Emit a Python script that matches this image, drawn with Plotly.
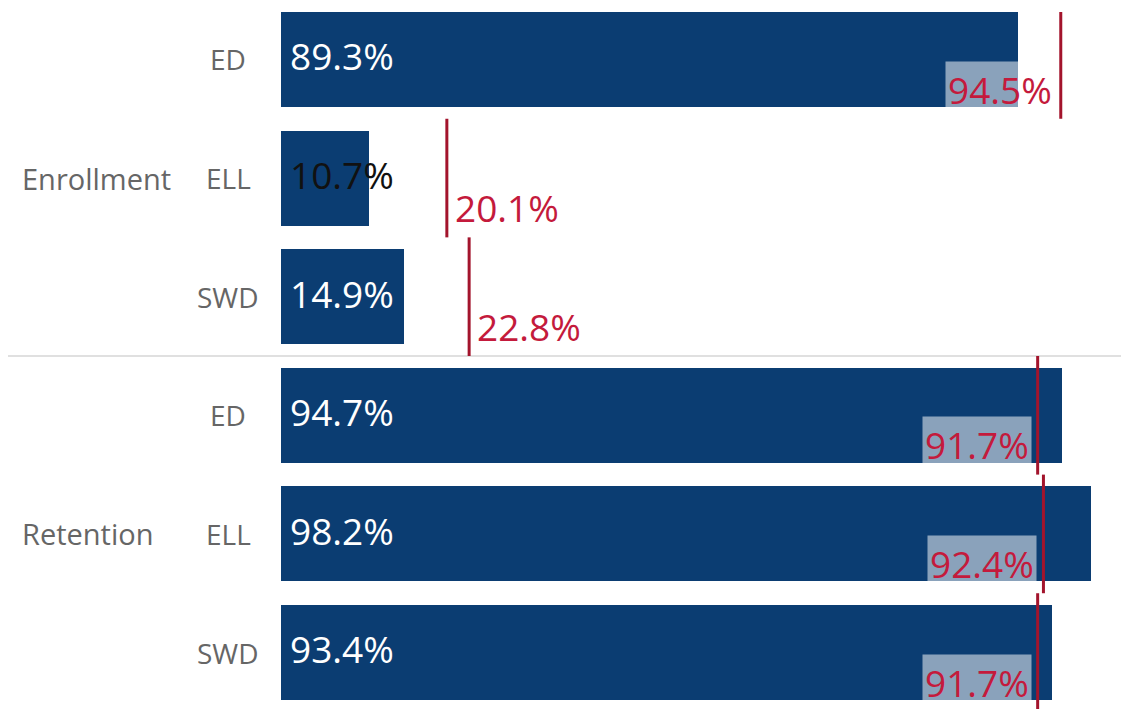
import plotly.graph_objects as go

# ---- data ----
groups = ["Enrollment", "Retention"]
subgroups = ["ED", "ELL", "SWD", "ED", "ELL", "SWD"]
values = [89.3, 10.7, 14.9, 94.7, 98.2, 93.4]
targets = [94.5, 20.1, 22.8, 91.7, 92.4, 91.7]

# ---- style ----
W, H = 1121, 709
NAVY = "#0b3d72"
RED_TXT = "#c41a3c"
RED_LINE = "#a3142c"
GRAY = "#666666"
FONT = "Open Sans"
ref_side = ["left", "right", "right", "left", "left", "left"]
value_color = ["white", "#111111", "white", "white", "white", "white"]

rows = list(range(len(values)))

fig = go.Figure()
fig.add_trace(go.Bar(
    x=values, y=rows, orientation="h", width=0.8,
    marker=dict(color=NAVY, line=dict(width=0)),
    hoverinfo="skip", showlegend=False,
))

shapes = []
annotations = []

# separator between groups
shapes.append(dict(type="line", xref="paper", yref="y",
                   x0=8 / W, x1=1, y0=2.5, y1=2.5,
                   line=dict(color="#d6d6d6", width=1.5), layer="below"))

for i in rows:
    # reference line
    shapes.append(dict(type="line", xref="x", yref="y",
                       x0=targets[i], x1=targets[i], y0=i - 0.5, y1=i + 0.5,
                       line=dict(color=RED_LINE, width=3)))
    # value label
    annotations.append(dict(x=0, y=i - 0.03, xref="x", yref="y",
                            text=f"{values[i]:.1f}%", showarrow=False,
                            xanchor="left", yanchor="middle", xshift=7,
                            font=dict(family=FONT, size=37, color=value_color[i])))
    # reference label
    side = ref_side[i]
    annotations.append(dict(x=targets[i], y=i + 0.25, xref="x", yref="y",
                            text=f"{targets[i]:.1f}%", showarrow=False,
                            xanchor="right" if side == "left" else "left",
                            xshift=-6 if side == "left" else 5,
                            yanchor="middle",
                            bgcolor="rgba(255,255,255,0.52)", borderpad=2,
                            font=dict(family=FONT, size=37, color=RED_TXT)))
    # subgroup label
    annotations.append(dict(x=228 / W, y=i, xref="paper", yref="y",
                            text=subgroups[i], showarrow=False,
                            xanchor="center", yanchor="middle",
                            font=dict(family=FONT, size=28, color=GRAY)))

# group labels
for g, yc in zip(groups, [1, 4]):
    annotations.append(dict(x=20 / W, y=yc, xref="paper", yref="y",
                            text=g, showarrow=False,
                            xanchor="left", yanchor="middle",
                            font=dict(family=FONT, size=29, color=GRAY)))

fig.update_layout(
    width=W, height=H,
    margin=dict(l=0, r=0, t=12, b=0),
    paper_bgcolor="white", plot_bgcolor="white",
    xaxis=dict(domain=[281 / W, 1], range=[0, 101.8], visible=False,
               showgrid=False, zeroline=False),
    yaxis=dict(range=[5.476, -0.4], visible=False, showgrid=False,
               zeroline=False),
    shapes=shapes, annotations=annotations,
    bargap=0,
)

fig.write_html(
    "out.html",
    config={"displayModeBar": False},
    post_script="document.body.style.margin='0';document.body.style.overflow='hidden';",
)
